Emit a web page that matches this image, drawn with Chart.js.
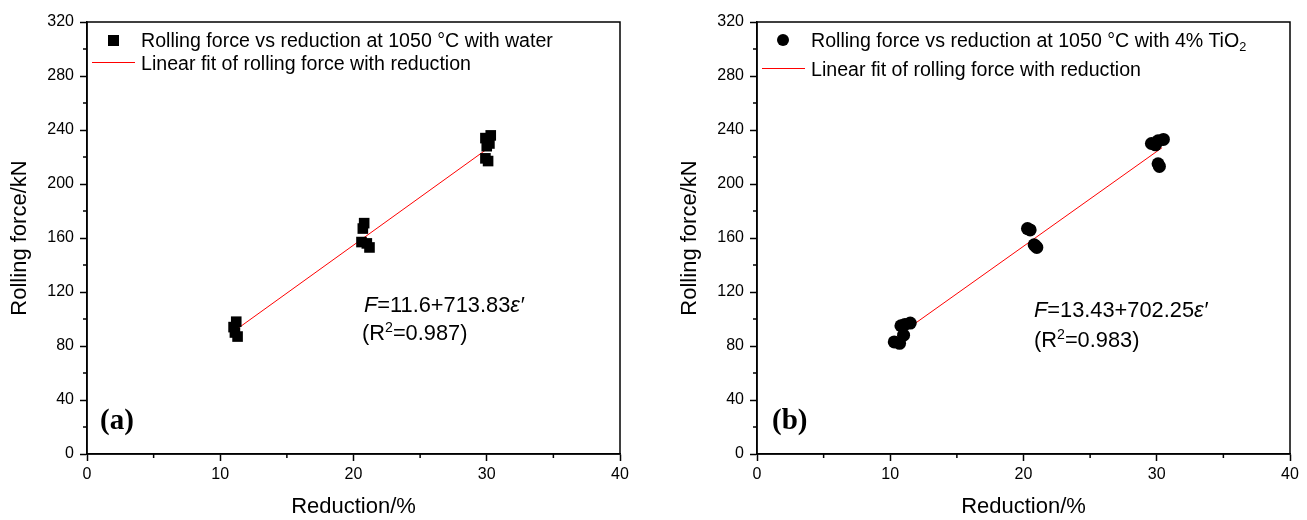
<!DOCTYPE html>
<html>
<head>
<meta charset="utf-8">
<script src="https://cdn.jsdelivr.net/npm/chart.js@4"></script>
<style>
  body { margin: 0; background: #fff; width: 1307px; height: 520px; position: relative; overflow: hidden; }
  canvas { position: absolute; top: 0; }
  .txt { position: absolute; font-family: "Liberation Sans", Arial, sans-serif; color: #000; white-space: nowrap; line-height: 1; }
  .leg { font-size: 19.6px; }
  .eq { font-size: 21.8px; }
  .lbl { position: absolute; font-family: "Liberation Serif", "Times New Roman", serif; font-weight: bold; font-size: 29px; line-height: 1; }
  .sq { position: absolute; width: 11px; height: 11px; background: #000; }
  .dot { position: absolute; width: 12px; height: 12px; border-radius: 50%; background: #000; }
  .ln { position: absolute; height: 1px; background: #f00; }
  sup { font-size: 65%; vertical-align: 0; position: relative; top: -0.55em; }
  sub { font-size: 65%; vertical-align: 0; position: relative; top: 0.35em; }
</style>
</head>
<body>
<canvas id="chartA" width="653" height="520" style="left:0"></canvas>
<canvas id="chartB" width="637" height="520" style="left:670px"></canvas>

<!-- legend + notes, chart (a) -->
<div class="sq" style="left:108px;top:35px"></div>
<div class="txt leg" style="left:141px;top:31px">Rolling force vs reduction at 1050 °C with water</div>
<div class="ln" style="left:92px;top:62px;width:43px"></div>
<div class="txt leg" style="left:141px;top:54px">Linear fit of rolling force with reduction</div>
<div class="txt eq" style="left:364px;top:294px"><i>F</i>=11.6+713.83<i>ε′</i></div>
<div class="txt eq" style="left:362px;top:322px">(R<sup>2</sup>=0.987)</div>
<div class="lbl" style="left:100px;top:405px">(a)</div>

<!-- legend + notes, chart (b) -->
<div class="dot" style="left:777px;top:34px"></div>
<div class="txt leg" style="left:811px;top:31px">Rolling force vs reduction at 1050 °C with 4% TiO<sub>2</sub></div>
<div class="ln" style="left:762px;top:68px;width:43px"></div>
<div class="txt leg" style="left:811px;top:60px">Linear fit of rolling force with reduction</div>
<div class="txt eq" style="left:1034px;top:299px"><i>F</i>=13.43+702.25<i>ε′</i></div>
<div class="txt eq" style="left:1034px;top:329px">(R<sup>2</sup>=0.983)</div>
<div class="lbl" style="left:772px;top:405px">(b)</div>

<script>
// chart (a): water
const waterX = [11.2, 11.0, 11.1, 11.3, 20.8, 20.7, 20.6, 21.0, 21.2, 30.3, 29.9, 30.2, 30.0, 29.9, 30.1];
const waterY = [98, 94, 90, 87, 171, 167, 157, 156, 153, 236, 234, 230, 228, 219, 217];
const fitWaterX = [10.95, 30.4];
const fitWaterY = [90.4, 228.6];

// chart (b): 4% TiO2
const tioX = [10.3, 10.7, 11.0, 10.8, 11.1, 11.5, 20.3, 20.5, 20.8, 20.9, 21.0, 29.6, 29.9, 30.1, 30.5, 30.1, 30.2];
const tioY = [83, 82, 88, 95, 96, 97, 167, 166, 155, 154, 153, 230, 229, 232, 233, 215, 213];
const fitTioX = [10.35, 30.4];
const fitTioY = [86.1, 226.9];

// axes
const xTicks = [0, 10, 20, 30, 40];
const xMinor = [5, 15, 25, 35];
const yTicks = [0, 40, 80, 120, 160, 200, 240, 280, 320];
const yMinor = [20, 60, 100, 140, 180, 220, 260, 300];

const FONT = "'Liberation Sans', Arial, sans-serif";

function pts(xs, ys) {
  return xs.map((x, i) => ({ x: x, y: ys[i] }));
}

// box frame + minor ticks
const framePlugin = {
  id: "frame",
  afterDraw(chart) {
    const { ctx, chartArea: a, scales } = chart;
    ctx.save();
    ctx.strokeStyle = "#000";
    ctx.lineWidth = 1.5;
    ctx.strokeRect(a.left, a.top, a.right - a.left, a.bottom - a.top);
    ctx.beginPath();
    xMinor.forEach(v => {
      const px = scales.x.getPixelForValue(v);
      ctx.moveTo(px, a.bottom);
      ctx.lineTo(px, a.bottom + 4);
    });
    yMinor.forEach(v => {
      const py = scales.y.getPixelForValue(v);
      ctx.moveTo(a.left, py);
      ctx.lineTo(a.left - 4, py);
    });
    ctx.stroke();
    ctx.restore();
  }
};

function makeChart(id, xs, ys, fx, fy, style, radius, rightPad) {
  const ctx = document.getElementById(id).getContext("2d");
  return new Chart(ctx, {
    type: "scatter",
    data: {
      datasets: [
        {
          label: "data",
          data: pts(xs, ys),
          pointStyle: style,
          pointRadius: radius,
          backgroundColor: "#000",
          borderColor: "#000",
          borderWidth: 0,
        },
        {
          label: "fit",
          data: pts(fx, fy),
          showLine: true,
          pointRadius: 0,
          borderColor: "#ff0000",
          borderWidth: 1,
        },
      ],
    },
    options: {
      responsive: false,
      animation: false,
      devicePixelRatio: 1,
      layout: { padding: { top: 22, right: rightPad, left: 0, bottom: 0 } },
      plugins: { legend: { display: false }, tooltip: { enabled: false } },
      scales: {
        x: {
          type: "linear",
          min: 0,
          max: 40,
          afterBuildTicks: s => { s.ticks = xTicks.map(v => ({ value: v })); },
          afterFit: s => { s.height = 66; },
          ticks: { color: "#000", font: { family: FONT, size: 16 }, padding: 4, maxRotation: 0 },
          grid: { drawOnChartArea: false, drawTicks: true, tickLength: 7, tickWidth: 1.5, tickColor: "#000" },
          border: { color: "#000", width: 1.5 },
          title: { display: true, text: "Reduction/%", color: "#000", font: { family: FONT, size: 22 }, padding: { top: 0, bottom: 0 } },
        },
        y: {
          type: "linear",
          min: 0,
          max: 320,
          afterBuildTicks: s => { s.ticks = yTicks.map(v => ({ value: v })); },
          afterFit: s => { s.width = 87; },
          ticks: { color: "#000", font: { family: FONT, size: 16 }, padding: 6 },
          grid: { drawOnChartArea: false, drawTicks: true, tickLength: 7, tickWidth: 1.5, tickColor: "#000" },
          border: { color: "#000", width: 1.5 },
          title: { display: true, text: "Rolling force/kN", color: "#000", font: { family: FONT, size: 22 }, padding: { top: 7, bottom: 0 } },
        },
      },
    },
    plugins: [framePlugin],
  });
}

makeChart("chartA", waterX, waterY, fitWaterX, fitWaterY, "rect", 7.5, 33);
makeChart("chartB", tioX, tioY, fitTioX, fitTioY, "circle", 6.5, 17);
</script>
</body>
</html>
